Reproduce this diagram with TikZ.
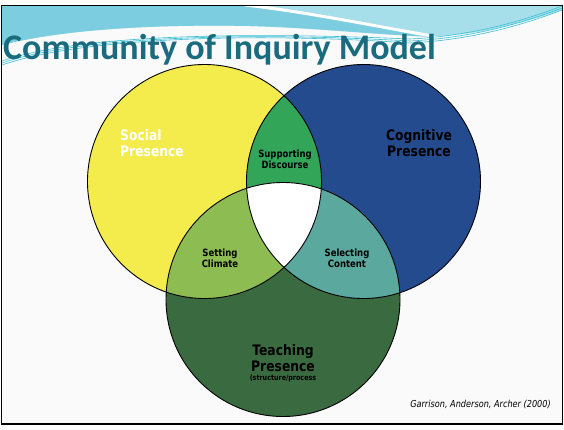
\documentclass[tikz,border=0pt]{standalone}
\usepackage{fontspec}
\setmainfont{DejaVu Sans}
\newfontfamily\titlefont{Carlito}
\newfontfamily\labelfont[FakeStretch=0.85]{DejaVu Sans}
\usetikzlibrary{positioning}

\definecolor{slidebg}{HTML}{FAFAFA}
\definecolor{bandblue}{HTML}{7CCDE0}
\definecolor{bandlight}{HTML}{A6DFEA}
\definecolor{bandline}{HTML}{38BFD3}
\definecolor{titleteal}{HTML}{1B6B7F}
\definecolor{socialyellow}{HTML}{F4EC4D}
\definecolor{cognitiveblue}{HTML}{244B8E}
\definecolor{teachgreen}{HTML}{3A6A40}
\definecolor{discoursegreen}{HTML}{33A559}
\definecolor{climategreen}{HTML}{8DBD52}
\definecolor{contentteal}{HTML}{5AA89E}

\tikzset{
  ring/.style={draw=black,line width=0.9pt},
  bigtext/.style={font=\labelfont\bfseries\fontsize{14.5}{16.5}\selectfont,inner sep=0pt,align=center},
  smalltext/.style={font=\labelfont\bfseries\fontsize{10}{11}\selectfont,inner sep=0pt,align=center},
}

\begin{document}
\begin{tikzpicture}[x=1pt,y=-1pt]
    \useasboundingbox (0,0) rectangle (564,429);
    \fill[white] (0,0) rectangle (564,429);
    \fill[slidebg] (2,6) rectangle (562,424);
    % top band
    \fill[bandlight] (2,6) -- (562,6) -- (562,10) .. controls (520,24) and (480,34) .. (440,36)
        .. controls (380,36) and (320,28) .. (250,26) .. controls (150,24) and (60,30) .. (2,45) -- cycle;
    \fill[bandblue] (2,6) -- (245,6) .. controls (300,12) and (370,26) .. (430,37)
        .. controls (370,34) and (320,28) .. (250,26) .. controls (150,24) and (60,30) .. (2,45) -- cycle;
    \draw[white,line width=3pt] (245,5) .. controls (300,11) and (370,25) .. (432,36);
    \foreach \dy in {0,2,4}
        \draw[bandline,line width=0.6pt] (2,65-\dy) .. controls (80,38-\dy) and (250,32) .. (410,43-\dy)
            .. controls (470,40-\dy) and (520,26-\dy) .. (562,10-\dy);
    \draw[black,line width=1.6pt] (1.5,5.5) rectangle (562.5,424);

    \node[font=\titlefont\bfseries\fontsize{36}{38}\selectfont,text=titleteal,inner sep=0pt,anchor=base west] (title) at (3,59) {Community of Inquiry Model};

    % circles
    \coordinate (yc) at (204.5,181.5);
    \coordinate (bc) at (363.5,181.5);
    \coordinate (tc) at (283,299.5);
    \fill[socialyellow] (yc) circle (117pt);
    \fill[cognitiveblue] (bc) circle (117pt);
    \fill[teachgreen] (tc) circle (117pt);
    \begin{scope}
        \clip (yc) circle (117pt);
        \fill[discoursegreen] (bc) circle (117pt);
        \fill[climategreen] (tc) circle (117pt);
    \end{scope}
    \begin{scope}
        \clip (bc) circle (117pt);
        \fill[contentteal] (tc) circle (117pt);
        \clip (yc) circle (117pt);
        \fill[white] (tc) circle (117pt);
    \end{scope}
    \draw[ring] (yc) circle (117pt);
    \draw[ring] (bc) circle (117pt);
    \draw[ring] (tc) circle (117pt);

    % labels
    \node[bigtext,align=left,text=white,anchor=west] (social) at (120,143) {Social\\Presence};
    \node[bigtext] (cognitive) at (419,143) {Cognitive\\Presence};
    \node[bigtext] (teach) at (283,358) {Teaching\\Presence};
    \node[font=\labelfont\bfseries\fontsize{7.5}{8}\selectfont,inner sep=0pt,below=2.5pt of teach] (process) {(structure/process};
    \node[smalltext] (discourse) at (285,159.5) {Supporting\\Discourse};
    \node[smalltext] (climate) at (220,258.7) {Setting\\Climate};
    \node[smalltext] (content) at (347,258.7) {Selecting\\Content};
    \node[font=\labelfont\itshape\fontsize{9.6}{10}\selectfont,inner sep=0pt,anchor=base east] (cite) at (551,407) {Garrison, Anderson, Archer (2000)};
\end{tikzpicture}
\end{document}
